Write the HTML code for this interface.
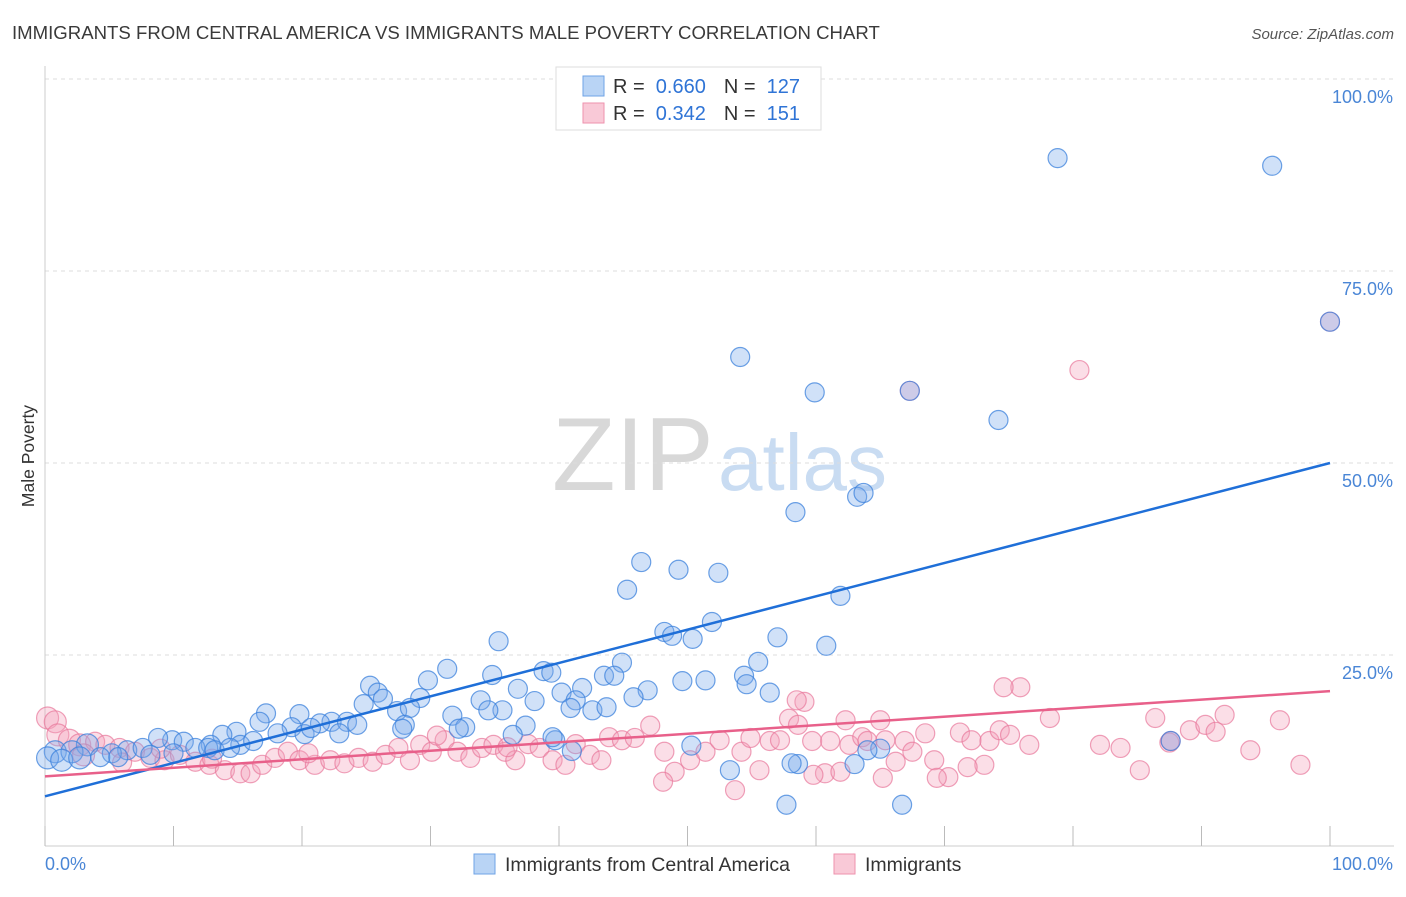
<!DOCTYPE html>
<html><head><meta charset="utf-8">
<style>
body{margin:0;background:#fff;font-family:"Liberation Sans",sans-serif;}
svg text{font-family:"Liberation Sans",sans-serif;}
</style></head>
<body>
<svg id="chart" width="1406" height="892" viewBox="0 0 1406 892">
<text x="12" y="39" font-size="18.6" fill="#3a3a3a">IMMIGRANTS FROM CENTRAL AMERICA VS IMMIGRANTS MALE POVERTY CORRELATION CHART</text>
<text x="1394" y="39" font-size="15" fill="#555" font-style="italic" text-anchor="end">Source: ZipAtlas.com</text>
<text transform="translate(34,456) rotate(-90)" font-size="17.5" fill="#333" text-anchor="middle">Male Poverty</text>
<g>
<text x="552" y="490" font-size="104" fill="#d8d8d8" font-family="Liberation Serif,serif">ZIP</text>
<text x="718" y="490" font-size="80" fill="#c9dcf2">atlas</text>
</g>
<g id="grid"></g>
<g id="axes"></g>
<g id="pts"></g>
<g id="lines"></g>
<g>
<rect x="556" y="67" width="265" height="63" fill="#fff" stroke="#ddd"/>
<rect x="583" y="76" width="21" height="20" fill="#b9d4f5" stroke="#6fa3e6"/>
<rect x="583" y="103" width="21" height="20" fill="#f9c9d7" stroke="#ee92ae"/>
<text x="613" y="93" font-size="20" fill="#333">R = <tspan fill="#2f74d6">&#160;0.660</tspan><tspan dx="18">N = </tspan><tspan fill="#2f74d6">&#160;127</tspan></text>
<text x="613" y="120" font-size="20" fill="#333">R = <tspan fill="#2f74d6">&#160;0.342</tspan><tspan dx="18">N = </tspan><tspan fill="#2f74d6">&#160;151</tspan></text>
</g>
<g>
<rect x="474" y="854" width="21" height="20" fill="#b9d4f5" stroke="#6fa3e6"/>
<text x="505" y="871" font-size="19.5" fill="#333">Immigrants from Central America</text>
<rect x="834" y="854" width="21" height="20" fill="#f9c9d7" stroke="#ee92ae"/>
<text x="865" y="871" font-size="19.5" fill="#333">Immigrants</text>
</g>
</svg>
<script>
const blueX=[78.8,95.5,100,54.1,59.9,67.3,74.2,63.2,63.7,58.4,46.4,49.3,52.4,45.3,61.9,51.9,48.2,48.8,57.0,50.4,35.3,60.8,44.9,31.3,38.8,55.5,43.5,44.3,54.4,34.8,39.4,49.6,51.4,54.6,25.3,29.8,46.9,36.8,25.9,40.2,41.8,56.4,45.8,29.2,33.9,26.3,38.1,41.3,24.8,17.2,42.6,40.9,43.7,35.6,27.4,28.4,34.5,31.7,19.8,16.7,22.3,23.5,24.3,21.4,19.2,28.0,32.7,32.2,27.8,37.4,18.1,20.2,20.7,22.9,14.9,13.8,9.9,8.8,10.8,12.9,3.3,15.2,16.2,11.7,12.7,6.4,7.6,5.2,0.8,2.1,4.3,0.2,1.3,2.7,5.7,8.2,10.0,13.2,14.4,39.7,41.0,36.4,39.5,50.3,65.0,53.3,58.6,63.0,87.6,57.7,66.7,64.0,58.1];
const blueY=[89.7,88.7,68.4,63.8,59.2,59.4,55.6,45.6,46.1,43.6,37.1,36.1,35.7,33.5,32.7,29.3,28.0,27.5,27.3,27.1,26.8,26.2,24.0,23.2,22.9,24.1,22.3,22.3,22.3,22.4,22.7,21.6,21.7,21.2,21.0,21.7,20.4,20.6,20.1,20.1,20.7,20.1,19.5,19.4,19.1,19.3,19.0,19.1,18.6,17.4,17.8,18.1,18.2,17.8,17.7,18.1,17.8,17.1,17.3,16.3,16.3,16.3,15.9,16.1,15.6,15.9,15.6,15.4,15.4,15.8,14.8,14.7,15.5,14.8,15.0,14.6,13.9,14.2,13.7,13.3,13.3,13.3,13.8,12.9,12.9,12.6,12.9,12.2,12.4,12.4,11.7,11.6,11.3,11.6,11.7,12.0,12.2,12.6,12.9,13.9,12.5,14.6,14.3,13.2,12.8,10.0,10.8,10.8,13.8,5.5,5.5,12.6,10.9];
const pinkX=[0.2,0.8,1.0,1.9,2.7,3.9,4.7,5.8,7.0,8.2,9.3,10.5,11.7,12.8,14.0,15.2,16.0,16.9,17.9,18.9,19.8,21.0,22.2,23.3,24.4,25.5,26.5,27.5,28.4,29.2,30.1,31.1,32.1,33.1,34.0,34.9,35.8,36.6,37.6,38.5,39.5,40.5,41.3,42.4,43.3,43.9,44.9,45.9,47.1,48.2,49.0,50.2,51.4,52.5,53.7,54.2,54.9,55.6,56.4,57.2,57.9,59.1,58.6,59.7,60.7,61.1,61.9,62.3,62.6,63.6,64.0,65.0,65.4,66.2,66.9,67.5,68.5,69.2,70.3,71.2,72.1,73.1,73.5,74.3,75.1,75.9,76.6,78.2,80.5,82.1,83.7,85.2,86.4,87.5,89.1,90.3,91.1,91.8,93.8,96.1,97.7,48.1,65.2,69.4,71.8,59.8,58.5,74.6,100,67.3,87.6,3.0,6.0,9.0,13.0,20.5,30.5,36.0];
const pinkY=[16.8,16.3,14.6,13.9,13.3,13.7,13.3,12.9,12.4,11.6,11.3,12.0,11.1,10.7,10.0,9.6,9.6,10.7,11.6,12.4,11.3,10.7,11.3,10.9,11.6,11.1,12.0,12.9,11.3,13.3,12.4,13.9,12.4,11.6,12.9,13.3,12.4,11.3,13.4,12.9,11.3,10.7,13.4,12.0,11.3,14.3,13.9,14.2,15.8,12.4,9.8,11.3,12.4,13.9,7.4,12.4,14.2,10.0,13.8,13.9,16.7,18.9,15.9,13.8,9.6,13.8,9.8,16.5,13.3,14.3,13.8,16.5,13.9,11.1,13.8,12.4,14.8,11.3,9.1,14.9,13.9,10.7,13.8,15.2,14.6,20.8,13.3,16.8,62.1,13.3,12.9,10.0,16.8,13.6,15.2,15.9,15.0,17.2,12.6,16.5,10.7,8.5,9.0,9.0,10.4,9.4,19.1,20.8,68.4,59.4,13.8,12.0,11.0,12.8,11.5,12.2,14.5,13.0];
const yTicks=[25,50,75,100];
const yTickLabels=["25.0%","50.0%","75.0%","100.0%"];
const xTicks=[0,10,20,30,40,50,60,70,80,90,100];
const blueFit=[6.6,50.0];
const pinkFit=[9.2,20.3];

const NS="http://www.w3.org/2000/svg";
const X0=45,X1=1330,Y0=847,YS=7.68;
function xs(v){return X0+(X1-X0)*v/100;}
function ys(v){return Y0-v*YS;}
function mk(tag,attrs,parent){const e=document.createElementNS(NS,tag);for(const k in attrs)e.setAttribute(k,attrs[k]);parent.appendChild(e);return e;}
const grid=document.getElementById('grid'),axes=document.getElementById('axes'),pts=document.getElementById('pts'),lines=document.getElementById('lines');
yTicks.forEach((t,i)=>{
  const l=mk('line',{x1:X0,x2:1394,y1:ys(t),y2:ys(t),stroke:'#ddd','stroke-dasharray':'4,4'},grid);
  
  
  const tx=mk('text',{x:1393,y:ys(t)+24,'font-size':18,fill:'#4a86d6','text-anchor':'end'},axes);
  tx.textContent=yTickLabels[i];
  
  
});
const ax=mk('line',{x1:X0,x2:X0,y1:66,y2:846,stroke:'#ccc'},axes);


const bx=mk('line',{x1:X0,x2:1394,y1:846,y2:846,stroke:'#ccc'},axes);


xTicks.forEach(t=>{
  const l=mk('line',{x1:xs(t),x2:xs(t),y1:826,y2:846,stroke:'#bbb'},axes);
  
  
});
const xl0=mk('text',{x:45,y:870,'font-size':18,fill:'#4a86d6'},axes);xl0.textContent='0.0%';


const xl1=mk('text',{x:1393,y:870,'font-size':18,fill:'#4a86d6','text-anchor':'end'},axes);xl1.textContent='100.0%';


function drawPts(X,Y,fill,stroke,name){
  X.forEach((x,i)=>{
    const r=x<3.5?11:9.5;
    const c=mk('circle',{cx:xs(x),cy:ys(Y[i]),r:r,fill:fill,stroke:stroke,'stroke-width':1.2},pts);
    
    
  });
}
drawPts(pinkX,pinkY,'rgba(244,160,186,0.35)','rgba(232,120,155,0.7)','immigrants');
drawPts(blueX,blueY,'rgba(120,170,235,0.35)','rgba(60,130,220,0.75)','central-america');
const bl=mk('line',{x1:xs(0),y1:ys(blueFit[0]),x2:xs(100),y2:ys(blueFit[1]),stroke:'#1f6fd8','stroke-width':2.5},lines);


const pl=mk('line',{x1:xs(0),y1:ys(pinkFit[0]),x2:xs(100),y2:ys(pinkFit[1]),stroke:'#e8608a','stroke-width':2.5},lines);


</script>
</body></html>
